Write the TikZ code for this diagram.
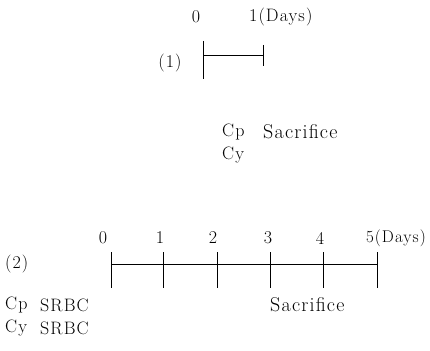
\documentclass[tikz,border=0pt]{standalone}
\usepackage{fontspec}
\setmainfont{Latin Modern Roman}[LetterSpace=6]
\tikzset{
  lbl/.style={inner sep=0pt, font=\fontsize{18}{21}\selectfont},
  widelbl/.style={inner sep=0pt, font=\fontsize{20}{23}\selectfont},
  axis/.style={line width=0.6pt},
  tick/.style={line width=0.6pt}
}
\begin{document}
\begin{tikzpicture}[x=1pt,y=-1pt]
\useasboundingbox (0,0) rectangle (430,350);

% ---- schedule (1) ----
\node[lbl] (a0) at (196,17) {0};
\node[lbl,anchor=west] (a1) at (249,17) {1(Days)};
\node[lbl] (p1) at (170,63) {(1)};
\coordinate (s0) at (203,55);
\coordinate (s1) at (263,55);
\draw[axis] (s0) -- (s1);
\draw[tick] (203,41) -- (203,79);
\draw[tick] (263,45) -- (263,66);
\node[lbl,anchor=west] (cp1) at (222,132) {Cp};
\node[widelbl,anchor=west] (sac1) at (263,132) {Sacrifice};
\node[lbl,anchor=west] (cy1) at (222,155) {Cy};

% ---- schedule (2) ----
\node[lbl] (b0) at (103,238) {0};
\node[lbl] (b1) at (160,238) {1};
\node[lbl] (b2) at (213,238) {2};
\node[lbl] (b3) at (268,238) {3};
\node[lbl] (b4) at (320,238) {4};
\node[lbl,anchor=east,font=\fontsize{17}{20}\selectfont] (b5) at (426,238) {5(Days)};
\node[lbl,anchor=west] (p2) at (5,264) {(2)};
\coordinate (t0) at (111,264);
\coordinate (t5) at (377,264);
\draw[axis] (t0) -- (t5);
\foreach \x in {111,163,217,270,323,377}
  \draw[tick] (\x,252) -- (\x,288);
\node[lbl,anchor=west] (cp2) at (5,305) {Cp};
\node[lbl,anchor=west] (sr2) at (40,305) {SRBC};
\node[widelbl,anchor=west] (sac2) at (270,305) {Sacrifice};
\node[lbl,anchor=west] (cy2) at (5,328) {Cy};
\node[lbl,anchor=west] (sr3) at (40,328) {SRBC};
\end{tikzpicture}
\end{document}
